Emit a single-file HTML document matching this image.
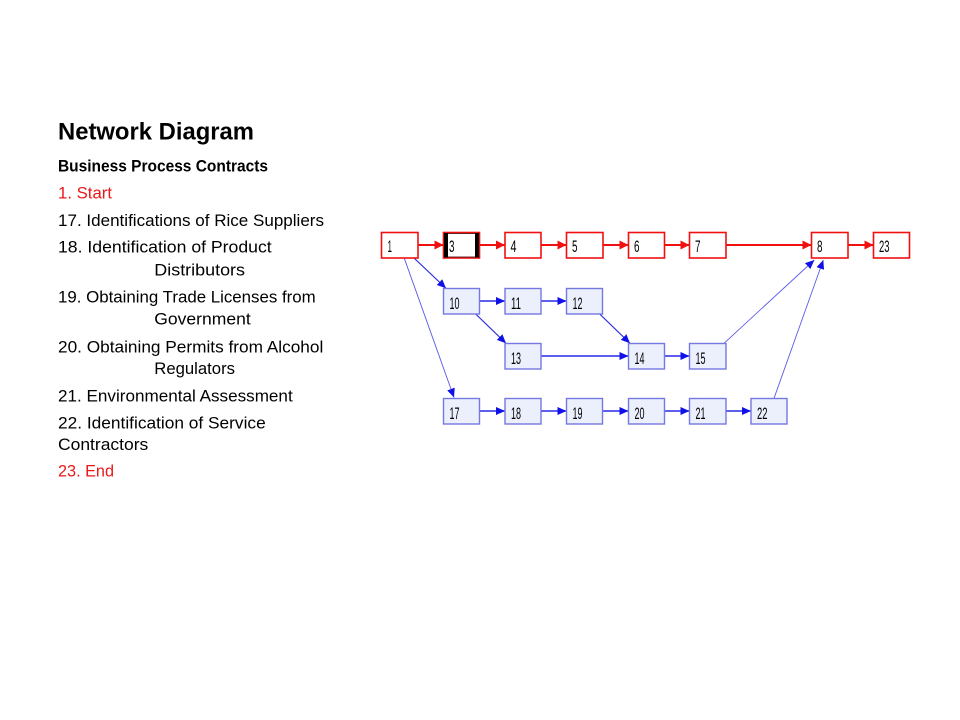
<!DOCTYPE html>
<html><head><meta charset="utf-8"><style>
html,body{margin:0;padding:0;background:#fff;}
svg{display:block;}
</style></head><body>
<svg width="960" height="720" viewBox="0 0 960 720" xmlns="http://www.w3.org/2000/svg">
<defs>
<marker id="ar" markerUnits="userSpaceOnUse" markerWidth="10" markerHeight="10" refX="9" refY="4.5" orient="auto"><path d="M0,0 L9,4.5 L0,9 z" fill="#f01010"/></marker>
<marker id="ab" markerUnits="userSpaceOnUse" markerWidth="10" markerHeight="10" refX="9" refY="4" orient="auto"><path d="M0,0 L9,4 L0,8 z" fill="#1010e8"/></marker>
</defs>
<rect width="960" height="720" fill="#fff"/>
<g font-family="Liberation Sans, Arial, sans-serif" fill="#000">
<text x="58" y="139.3" font-size="24.5" font-weight="bold" textLength="196" lengthAdjust="spacingAndGlyphs">Network Diagram</text>
<text x="58" y="171.7" font-size="16.3" font-weight="bold" textLength="210" lengthAdjust="spacingAndGlyphs">Business Process Contracts</text>
<g font-size="16.3">
<text x="58" y="198.5" fill="#e81818" textLength="54" lengthAdjust="spacingAndGlyphs">1. Start</text>
<text x="58" y="226" textLength="266" lengthAdjust="spacingAndGlyphs">17. Identifications of Rice Suppliers</text>
<text x="58" y="252.7" textLength="213.7" lengthAdjust="spacingAndGlyphs">18. Identification of Product</text>
<text x="154.3" y="275.7" textLength="90.7" lengthAdjust="spacingAndGlyphs">Distributors</text>
<text x="58" y="302.3" textLength="257.7" lengthAdjust="spacingAndGlyphs">19. Obtaining Trade Licenses from</text>
<text x="154.3" y="324.3" textLength="96.4" lengthAdjust="spacingAndGlyphs">Government</text>
<text x="58" y="352.3" textLength="265.3" lengthAdjust="spacingAndGlyphs">20. Obtaining Permits from Alcohol</text>
<text x="154.3" y="374" textLength="80.7" lengthAdjust="spacingAndGlyphs">Regulators</text>
<text x="58" y="401.7" textLength="234.7" lengthAdjust="spacingAndGlyphs">21. Environmental Assessment</text>
<text x="58" y="428.3" textLength="207.7" lengthAdjust="spacingAndGlyphs">22. Identification of Service</text>
<text x="58" y="450" textLength="90.3" lengthAdjust="spacingAndGlyphs">Contractors</text>
<text x="58" y="476.7" fill="#e81818" textLength="56" lengthAdjust="spacingAndGlyphs">23. End</text>
</g>
</g>

<!-- connectors -->
<g stroke="#f01010" stroke-width="2" fill="none" marker-end="url(#ar)">
<line x1="418" y1="245" x2="443.5" y2="245"/>
<line x1="479.5" y1="245" x2="505" y2="245"/>
<line x1="541" y1="245" x2="566.5" y2="245"/>
<line x1="603" y1="245" x2="628.5" y2="245"/>
<line x1="665" y1="245" x2="689.5" y2="245"/>
<line x1="726" y1="245" x2="811.5" y2="245"/>
<line x1="848" y1="245" x2="873.5" y2="245"/>
</g>
<g stroke="#2a2ae8" stroke-width="1.6" fill="none" marker-end="url(#ab)">
<line x1="480" y1="301" x2="505" y2="301"/>
<line x1="541" y1="301" x2="566.5" y2="301"/>
<line x1="541" y1="356" x2="628.5" y2="356"/>
<line x1="665" y1="356" x2="689.5" y2="356"/>
<line x1="480" y1="411" x2="505" y2="411"/>
<line x1="541" y1="411" x2="566.5" y2="411"/>
<line x1="603" y1="411" x2="628.5" y2="411"/>
<line x1="665" y1="411" x2="689.5" y2="411"/>
<line x1="726" y1="411" x2="751" y2="411"/>
</g>
<g stroke="#3030e0" stroke-width="1.1" fill="none" marker-end="url(#ab)">
<line x1="414.3" y1="258.3" x2="446" y2="288.3"/>
<line x1="476" y1="314.3" x2="506" y2="343.3"/>
<line x1="600" y1="314.3" x2="630" y2="343.3"/>
</g>
<g stroke="#5a5ae8" stroke-width="0.9" fill="none" marker-end="url(#ab)">
<line x1="404.3" y1="258.3" x2="454" y2="397.5"/>
<line x1="724" y1="343.3" x2="814.3" y2="260"/>
<line x1="774" y1="398.3" x2="823.3" y2="260"/>
</g>

<!-- red nodes -->
<g stroke="#f01010" stroke-width="1.6" fill="#fff">
<rect x="381.5" y="232.5" width="36.5" height="25.5"/>
<rect x="443.5" y="232.5" width="36" height="25.5"/>
<rect x="505" y="232.5" width="36" height="25.5"/>
<rect x="566.5" y="232.5" width="36.5" height="25.5"/>
<rect x="628.5" y="232.5" width="36" height="25.5"/>
<rect x="689.5" y="232.5" width="36.5" height="25.5"/>
<rect x="811.5" y="232.5" width="36.5" height="25.5"/>
<rect x="873.5" y="232.5" width="36" height="25.5"/>
</g>
<!-- selected node 3 -->
<rect x="444.5" y="233.5" width="34" height="23.5" fill="none" stroke="#400000" stroke-width="0.8"/>
<rect x="444" y="233" width="4" height="24.5" fill="#000"/>
<rect x="475" y="233" width="4" height="24.5" fill="#000"/>

<!-- blue nodes -->
<g stroke="#7478e0" stroke-width="1.4" fill="#ebf0fc">
<rect x="443.5" y="288.5" width="36" height="25.5"/>
<rect x="505" y="288.5" width="36" height="25.5"/>
<rect x="566.5" y="288.5" width="36" height="25.5"/>
<rect x="505" y="343.5" width="36" height="25.5"/>
<rect x="628.5" y="343.5" width="36" height="25.5"/>
<rect x="689.5" y="343.5" width="36.5" height="25.5"/>
<rect x="443.5" y="398.5" width="36" height="25.5"/>
<rect x="505" y="398.5" width="36" height="25.5"/>
<rect x="566.5" y="398.5" width="36" height="25.5"/>
<rect x="628.5" y="398.5" width="36" height="25.5"/>
<rect x="689.5" y="398.5" width="36.5" height="25.5"/>
<rect x="751" y="398.5" width="36" height="25.5"/>
</g>

<!-- node labels -->
<g font-family="Liberation Sans, Arial, sans-serif" font-size="16.5" fill="#000">
<text x="387.5" y="252" textLength="4.5" lengthAdjust="spacingAndGlyphs">1</text>
<text x="449" y="252" textLength="5.5" lengthAdjust="spacingAndGlyphs">3</text>
<text x="510.5" y="252" textLength="6" lengthAdjust="spacingAndGlyphs">4</text>
<text x="572" y="252" textLength="5.5" lengthAdjust="spacingAndGlyphs">5</text>
<text x="634" y="252" textLength="5.5" lengthAdjust="spacingAndGlyphs">6</text>
<text x="695" y="252" textLength="5.5" lengthAdjust="spacingAndGlyphs">7</text>
<text x="817" y="252" textLength="5.5" lengthAdjust="spacingAndGlyphs">8</text>
<text x="879" y="252" textLength="10.5" lengthAdjust="spacingAndGlyphs">23</text>
<text x="449.5" y="309" textLength="10" lengthAdjust="spacingAndGlyphs">10</text>
<text x="511" y="309" textLength="10" lengthAdjust="spacingAndGlyphs">11</text>
<text x="572.5" y="309" textLength="10" lengthAdjust="spacingAndGlyphs">12</text>
<text x="511" y="364" textLength="10" lengthAdjust="spacingAndGlyphs">13</text>
<text x="634.5" y="364" textLength="10" lengthAdjust="spacingAndGlyphs">14</text>
<text x="695.5" y="364" textLength="10" lengthAdjust="spacingAndGlyphs">15</text>
<text x="449.5" y="419" textLength="10" lengthAdjust="spacingAndGlyphs">17</text>
<text x="511" y="419" textLength="10" lengthAdjust="spacingAndGlyphs">18</text>
<text x="572.5" y="419" textLength="10" lengthAdjust="spacingAndGlyphs">19</text>
<text x="634.5" y="419" textLength="10" lengthAdjust="spacingAndGlyphs">20</text>
<text x="695.5" y="419" textLength="10" lengthAdjust="spacingAndGlyphs">21</text>
<text x="757" y="419" textLength="10.5" lengthAdjust="spacingAndGlyphs">22</text>
</g>
</svg>
</body></html>
